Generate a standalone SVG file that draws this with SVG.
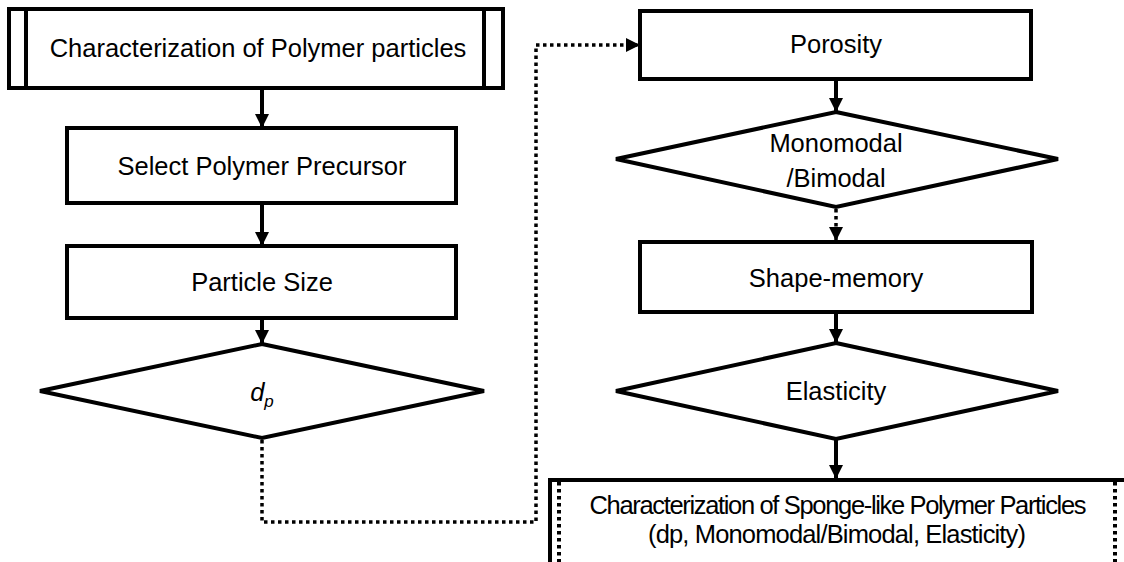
<svg xmlns="http://www.w3.org/2000/svg" width="1124" height="562" viewBox="0 0 1124 562">
<style>
.box{fill:#fff;stroke:#000;stroke-width:4}
.bar{stroke:#000;stroke-width:4;fill:none}
.dbar{stroke:#000;stroke-width:4;fill:none;stroke-dasharray:3.5 3.5}
.t{font-family:"Liberation Sans",Arial,sans-serif;font-size:25.5px;fill:#000;text-anchor:middle}
.c{stroke:#000;stroke-width:4;fill:none}
.d{stroke:#000;stroke-width:3.5;fill:none;stroke-dasharray:3.5 3.5}
</style>
<defs>
<marker id="ah" markerUnits="userSpaceOnUse" markerWidth="14" markerHeight="14" viewBox="0 0 14 14" refX="13" refY="7" orient="auto">
<path d="M0,0 L14,7 L0,14 Z" fill="#000"/>
</marker>
</defs>
<rect width="1124" height="562" fill="#fff"/>
<g id="connectors">
<line class="c" x1="262" y1="88" x2="262" y2="127" marker-end="url(#ah)"/>
<line class="c" x1="262" y1="203" x2="262" y2="245" marker-end="url(#ah)"/>
<line class="c" x1="262" y1="318" x2="262" y2="343" marker-end="url(#ah)"/>
<polyline class="d" points="262,440 262,522 536,522 536,45 639,45" marker-end="url(#ah)"/>
<line class="c" x1="836" y1="79" x2="836" y2="111" marker-end="url(#ah)"/>
<line class="d" x1="836" y1="209" x2="836" y2="240" marker-end="url(#ah)"/>
<line class="c" x1="836" y1="312" x2="836" y2="342" marker-end="url(#ah)"/>
<line class="c" x1="836" y1="440" x2="836" y2="478" marker-end="url(#ah)"/>
</g>
<g id="n1">
<rect class="box" x="9" y="9" width="494" height="79"/>
<line class="bar" x1="26" y1="9" x2="26" y2="88"/>
<line class="bar" x1="484" y1="9" x2="484" y2="88"/>
<text class="t" x="258" y="57" font-size="26.5">Characterization of Polymer particles</text>
</g>
<g id="n2">
<rect class="box" x="67" y="128" width="389" height="75"/>
<text class="t" x="262" y="175">Select Polymer Precursor</text>
</g>
<g id="n3">
<rect class="box" x="67" y="246" width="389" height="72"/>
<text class="t" x="262" y="291">Particle Size</text>
</g>
<g id="n4">
<polygon class="box" points="262,344 484,391 262,438 40,391"/>
<text class="t" x="262" y="401" font-style="italic">d<tspan font-size="17" dy="6">p</tspan></text>
</g>
<g id="n5">
<rect class="box" x="640" y="11" width="391" height="68"/>
<text class="t" x="836" y="53">Porosity</text>
</g>
<g id="n6">
<polygon class="box" points="836,112 1058,159 836,207 616,159"/>
<text class="t" x="836" y="152" font-size="26.5">Monomodal</text>
<text class="t" x="836" y="187" font-size="26.5">/Bimodal</text>
</g>
<g id="n7">
<rect class="box" x="640" y="242" width="392" height="70"/>
<text class="t" x="836" y="287">Shape-memory</text>
</g>
<g id="n8">
<polygon class="box" points="836,343 1058,391 836,439 616,391"/>
<text class="t" x="836" y="400">Elasticity</text>
</g>
<g id="n9">
<rect class="box" x="550" y="480" width="580" height="90"/>
<line class="dbar" x1="559" y1="482" x2="559" y2="562"/>
<line class="dbar" x1="1115" y1="482" x2="1115" y2="562"/>
<text class="t" x="838" y="514" font-size="23" textLength="497" lengthAdjust="spacing">Characterization of Sponge-like Polymer Particles</text>
<text class="t" x="837" y="543" font-size="23" textLength="378" lengthAdjust="spacing">(dp, Monomodal/Bimodal, Elasticity)</text>
</g>
</svg>
